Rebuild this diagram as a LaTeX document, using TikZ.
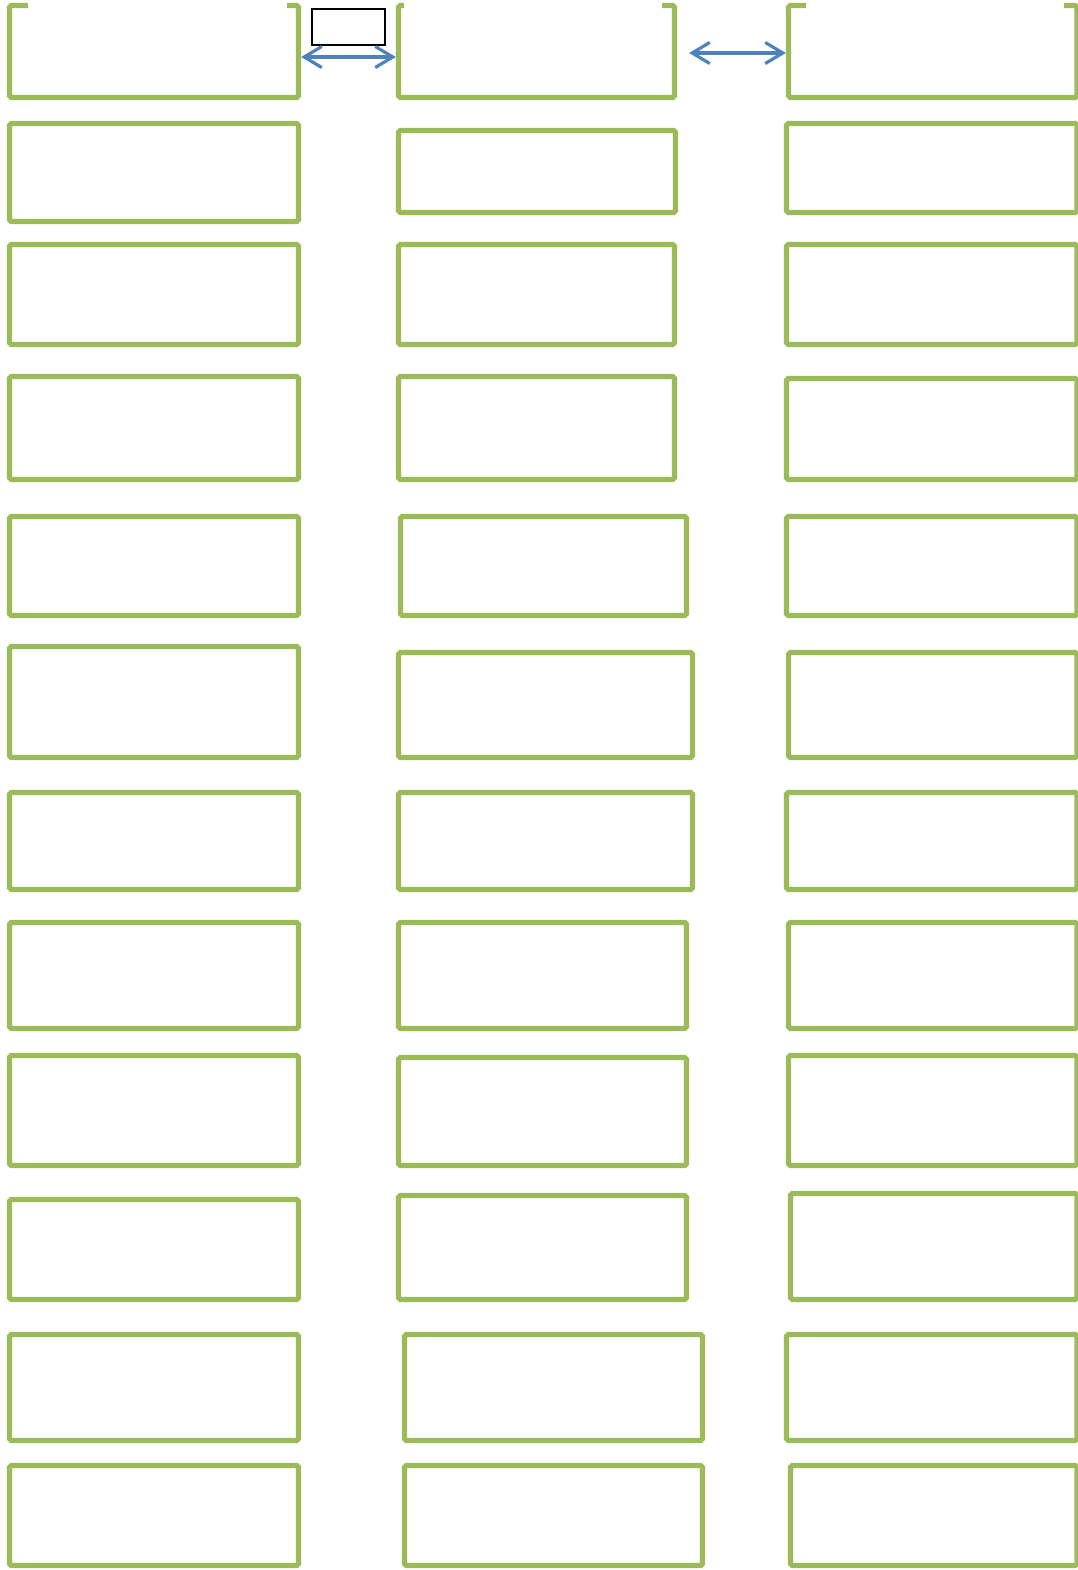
\documentclass[tikz,border=0pt]{standalone}
\usepackage{tikz}
\usetikzlibrary{arrows.meta, fit}
\definecolor{boxgreen}{RGB}{155,187,89}
\definecolor{linkblue}{RGB}{79,129,189}

\begin{document}
\begin{tikzpicture}[
    x=0.02cm, y=-0.02cm,
    box/.style={draw=boxgreen, line width=3pt, rounded corners=1pt, inner sep=0pt, minimum size=0pt},
    arr/.style={{Straight Barb[length=10pt, width=12pt]}-{Straight Barb[length=10pt, width=12pt]}, line width=1.8pt, color=linkblue},
    tag/.style={draw=black, line width=0.7pt, inner sep=0pt, minimum size=0pt}
  ]
  \useasboundingbox (0,0) rectangle (1078,1570);
  % left column
  \node[box, fit={(9.5,5.5) (298.5,97.5)}] (l1) {};
  \node[box, fit={(9.5,123.5) (298.5,221.5)}] (l2) {};
  \node[box, fit={(9.5,244.5) (298.5,344.5)}] (l3) {};
  \node[box, fit={(9.5,376.5) (298.5,479.5)}] (l4) {};
  \node[box, fit={(9.5,516.5) (298.5,615.5)}] (l5) {};
  \node[box, fit={(9.5,646.5) (298.5,757.5)}] (l6) {};
  \node[box, fit={(9.5,792.5) (298.5,889.5)}] (l7) {};
  \node[box, fit={(9.5,922.5) (298.5,1028.5)}] (l8) {};
  \node[box, fit={(9.5,1055.5) (298.5,1165.5)}] (l9) {};
  \node[box, fit={(9.5,1199.5) (298.5,1299.5)}] (l10) {};
  \node[box, fit={(9.5,1334.5) (298.5,1440.5)}] (l11) {};
  \node[box, fit={(9.5,1465.5) (298.5,1565.5)}] (l12) {};
  % middle column
  \node[box, fit={(398.5,5.5) (674.5,97.5)}] (m1) {};
  \node[box, fit={(398.5,130.5) (675.5,212.5)}] (m2) {};
  \node[box, fit={(398.5,244.5) (674.5,344.5)}] (m3) {};
  \node[box, fit={(398.5,376.5) (674.5,479.5)}] (m4) {};
  \node[box, fit={(400.5,516.5) (686.5,615.5)}] (m5) {};
  \node[box, fit={(398.5,652.5) (692.5,757.5)}] (m6) {};
  \node[box, fit={(398.5,792.5) (692.5,889.5)}] (m7) {};
  \node[box, fit={(398.5,922.5) (686.5,1028.5)}] (m8) {};
  \node[box, fit={(398.5,1057.5) (686.5,1165.5)}] (m9) {};
  \node[box, fit={(398.5,1195.5) (686.5,1299.5)}] (m10) {};
  \node[box, fit={(404.5,1334.5) (702.5,1440.5)}] (m11) {};
  \node[box, fit={(404.5,1465.5) (702.5,1565.5)}] (m12) {};
  % right column
  \node[box, fit={(788.5,5.5) (1077,97.5)}] (r1) {};
  \node[box, fit={(786.5,123.5) (1077,212.5)}] (r2) {};
  \node[box, fit={(786.5,244.5) (1077,344.5)}] (r3) {};
  \node[box, fit={(786.5,378.5) (1077,479.5)}] (r4) {};
  \node[box, fit={(786.5,516.5) (1077,615.5)}] (r5) {};
  \node[box, fit={(788.5,652.5) (1077,757.5)}] (r6) {};
  \node[box, fit={(786.5,792.5) (1077,889.5)}] (r7) {};
  \node[box, fit={(788.5,922.5) (1077,1028.5)}] (r8) {};
  \node[box, fit={(788.5,1055.5) (1077,1165.5)}] (r9) {};
  \node[box, fit={(790.5,1193.5) (1077,1299.5)}] (r10) {};
  \node[box, fit={(786.5,1334.5) (1077,1440.5)}] (r11) {};
  \node[box, fit={(790.5,1465.5) (1077,1565.5)}] (r12) {};
  % gaps in the top edges
  \fill[white] (28,0) rectangle (287,9);
  \fill[white] (404,0) rectangle (662,9);
  \fill[white] (806,0) rectangle (1064,9);
  % small label frame and links
  \node[tag, fit={(312,9) (385,45)}] (t1) {};
  \draw[arr] ([yshift=-0.11cm]l1.east) -- ([yshift=-0.11cm]m1.west);
  \draw[arr] ([xshift=0.24cm, yshift=-0.03cm]m1.east) -- ([yshift=-0.03cm]r1.west);
\end{tikzpicture}
\end{document}
